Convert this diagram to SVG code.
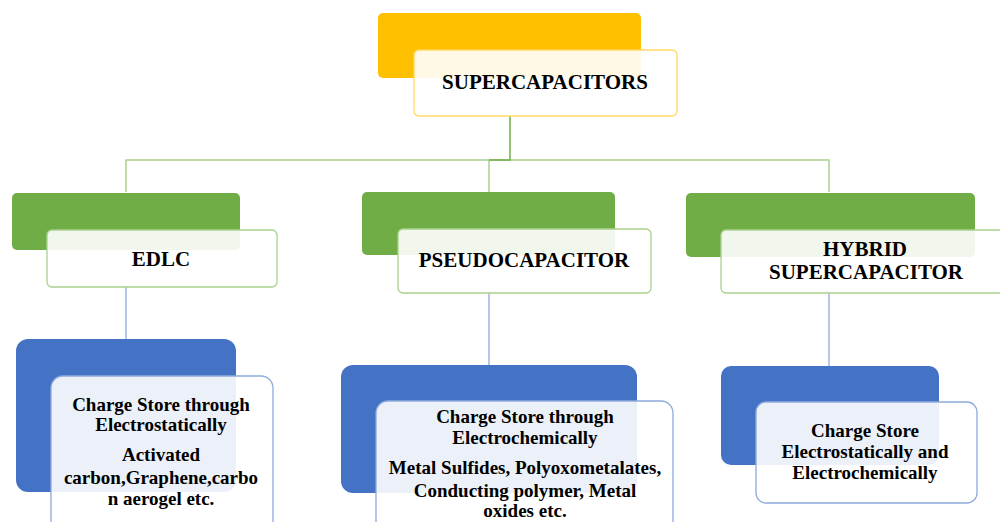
<svg xmlns="http://www.w3.org/2000/svg" width="1000" height="522" viewBox="0 0 1000 522">
<style>
.t{font-family:"Liberation Serif","Times New Roman",serif;font-weight:bold;fill:#000;text-anchor:middle}
.h{font-size:21px}
.b{font-size:19px}
.card{fill:#fff;fill-opacity:0.9;stroke-width:1.3}
.og{stroke:#FFD965}.gg{stroke:#A9D18E}.bg{stroke:#8FAADC}
.cg{stroke:#A9D18E;stroke-width:1.5;fill:none}
.cd{stroke:#70AD47;stroke-width:1.5;fill:none}
.cb{stroke:#8FAADC;stroke-width:1.3;fill:none}
</style>
<rect width="1000" height="522" fill="#fff"/>
<g id="connectors">
<polyline class="cg" points="126,192 126,160 829,160 829,192"/>
<line class="cg" x1="489" y1="160" x2="489" y2="192"/>
<polyline class="cd" points="510,116 510,160 489,160"/>
<line class="cb" x1="126" y1="287" x2="126" y2="339"/>
<line class="cb" x1="489" y1="293" x2="489" y2="365"/>
<line class="cb" x1="829" y1="293" x2="829" y2="366"/>
</g>
<g id="supercapacitors">
<rect x="378" y="13" width="263" height="65" rx="5" fill="#FFC000"/>
<rect class="card og" x="414" y="50" width="263" height="66" rx="5"/>
<text class="t h" x="545" y="89">SUPERCAPACITORS</text>
</g>
<g id="edlc">
<rect x="12" y="193" width="228" height="57" rx="5" fill="#70AD47"/>
<rect class="card gg" x="47" y="230" width="230" height="57" rx="5"/>
<text class="t h" x="161" y="266">EDLC</text>
</g>
<g id="pseudocapacitor">
<rect x="362" y="192" width="253" height="63" rx="5" fill="#70AD47"/>
<rect class="card gg" x="398" y="229" width="253" height="64" rx="5"/>
<text class="t h" x="524" y="267">PSEUDOCAPACITOR</text>
</g>
<g id="hybrid">
<rect x="686" y="193" width="289" height="64" rx="5" fill="#70AD47"/>
<rect class="card gg" x="721" y="230" width="290" height="63" rx="5"/>
<text class="t h" x="865" y="256">HYBRID</text>
<text class="t h" x="866" y="279">SUPERCAPACITOR</text>
</g>
<g id="edlc-detail">
<rect x="16" y="339" width="220" height="153" rx="12" fill="#4472C4"/>
<rect class="card bg" x="51" y="376" width="222" height="160" rx="12"/>
<text class="t b" x="161" y="411">Charge Store through</text>
<text class="t b" x="161" y="431">Electrostatically</text>
<text class="t b" x="161" y="461">Activated</text>
<text class="t b" x="161" y="484">carbon,Graphene,carbo</text>
<text class="t b" x="161" y="505">n aerogel etc.</text>
</g>
<g id="pseudo-detail">
<rect x="341" y="365" width="296" height="128" rx="12" fill="#4472C4"/>
<rect class="card bg" x="376" y="401" width="297" height="140" rx="12"/>
<text class="t b" x="525" y="423">Charge Store through</text>
<text class="t b" x="525" y="444">Electrochemically</text>
<text class="t b" x="525" y="474">Metal Sulfides, Polyoxometalates,</text>
<text class="t b" x="525" y="497">Conducting polymer, Metal</text>
<text class="t b" x="525" y="517">oxides etc.</text>
</g>
<g id="hybrid-detail">
<rect x="721" y="366" width="218" height="99" rx="10" fill="#4472C4"/>
<rect class="card bg" x="756" y="402" width="221" height="101" rx="10"/>
<text class="t b" x="865" y="437">Charge Store</text>
<text class="t b" x="865" y="458">Electrostatically and</text>
<text class="t b" x="865" y="479">Electrochemically</text>
</g>
</svg>
